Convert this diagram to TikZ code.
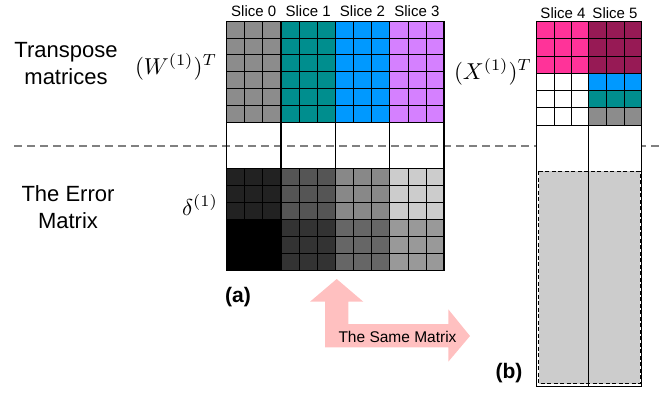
\documentclass[tikz,border=0pt]{standalone}
\usepackage{graphicx}
\usepackage{fontspec}
\setmainfont{Liberation Sans}
\definecolor{cGray}{HTML}{8C8C8C}
\definecolor{cTeal}{HTML}{008E8E}
\definecolor{cBlue}{HTML}{0099FF}
\definecolor{cViolet}{HTML}{D580FF}
\definecolor{cPink}{HTML}{FF3399}
\definecolor{cMaroon}{HTML}{971A55}
\definecolor{cArrow}{HTML}{FFC0C0}
\definecolor{dA}{HTML}{222222}
\definecolor{dB}{HTML}{000000}
\definecolor{dC}{HTML}{555555}
\definecolor{dD}{HTML}{333333}
\definecolor{dE}{HTML}{888888}
\definecolor{dF}{HTML}{666666}
\definecolor{dG}{HTML}{CCCCCC}
\definecolor{dH}{HTML}{999999}
\begin{document}
\begin{tikzpicture}[x=1pt,y=-1pt,
  cell/.style={draw=black,line width=0.55pt},
  slicebar/.style={draw=black,line width=1.3pt},
  slicelabel/.style={font=\fontsize{15}{17}\selectfont,inner sep=0pt},
  sidelabel/.style={font=\fontsize{22}{27}\selectfont,align=center,inner sep=0pt},
  mathlabel/.style={inner sep=0pt},
  partlabel/.style={font=\fontsize{21}{24}\selectfont\bfseries,inner sep=0pt},
  divider/.style={draw=black!50,line width=1.4pt,dash pattern=on 8pt off 5pt}]
\useasboundingbox (0,0) rectangle (664,392);

% divider
\coordinate (dl) at (14,146);
\coordinate (dr) at (662,146);
\draw[divider] (dl) -- (dr);

% left matrix: top (transpose) block
\foreach \s/\col in {0/cGray,1/cTeal,2/cBlue,3/cViolet}{
  \foreach \i in {0,1,2}{
    \foreach \j in {0,...,5}{
      \filldraw[cell,fill=\col] ({226.5+(3*\s+\i)*18.133},{21+\j*16.833}) rectangle ++(18.133,16.833);
    }
  }
}
% left matrix: error block
\foreach \s/\ca/\cb in {0/dA/dB,1/dC/dD,2/dE/dF,3/dG/dH}{
  \foreach \i in {0,1,2}{
    \foreach \j in {0,1,2}{
      \filldraw[cell,fill=\ca] ({226.5+(3*\s+\i)*18.133},{168.3+\j*16.95}) rectangle ++(18.133,16.95);
    }
    \foreach \j in {3,4,5}{
      \filldraw[cell,fill=\cb] ({226.5+(3*\s+\i)*18.133},{168.3+\j*16.95}) rectangle ++(18.133,16.95);
    }
  }
}
\foreach \s in {0,...,4}{
  \draw[slicebar] ({226.5+\s*54.4},21) -- ({226.5+\s*54.4},270.5);
}
\draw[line width=1pt] (226.5,270) -- (444.1,270);

% right matrix
\fill[white] (536.7,21.5) rectangle (641.7,386.5);
\foreach \i in {0,1,2}{
  \foreach \j in {0,1,2}{
    \filldraw[cell,fill=cPink] ({536.7+\i*17.2},{21.5+\j*17.25}) rectangle ++(17.2,17.25);
    \filldraw[cell,fill=cMaroon] ({588.3+\i*17.8},{21.5+\j*17.25}) rectangle ++(17.8,17.25);
  }
  \foreach \j in {3,4,5}{
    \draw[cell] ({536.7+\i*17.2},{21.5+\j*17.25}) rectangle ++(17.2,17.25);
  }
  \filldraw[cell,fill=cBlue] ({588.3+\i*17.8},{21.5+3*17.25}) rectangle ++(17.8,17.25);
  \filldraw[cell,fill=cTeal] ({588.3+\i*17.8},{21.5+4*17.25}) rectangle ++(17.8,17.25);
  \filldraw[cell,fill=cGray] ({588.3+\i*17.8},{21.5+5*17.25}) rectangle ++(17.8,17.25);
}
\filldraw[fill=black!20,draw=black,line width=0.8pt,dash pattern=on 4pt off 2.5pt] (538.8,171) rectangle (640,383.8);
\draw[line width=0.9pt] (536.7,21.5) rectangle (641.7,386.5);
\draw[slicebar] (588.3,21.5) -- (588.3,386.5);

% slice labels
\node[slicelabel] (s0) at (253.7,11.5) {Slice 0};
\node[slicelabel] (s1) at (308.1,11.5) {Slice 1};
\node[slicelabel] (s2) at (362.5,11.5) {Slice 2};
\node[slicelabel] (s3) at (416.9,11.5) {Slice 3};
\node[slicelabel] (s4) at (563,13) {Slice 4};
\node[slicelabel] (s5) at (615,13) {Slice 5};

% side labels
\node[sidelabel] (tm) at (66,64) {Transpose\\matrices};
\node[sidelabel] (em) at (68,207) {The Error\\Matrix};

% math labels
\node[mathlabel] (wt) at (176,67) {\scalebox{2.3}{$(W^{(1)})^{T}$}};
\node[mathlabel] (dl1) at (200,205) {\scalebox{2.3}{$\delta^{(1)}$}};
\node[mathlabel] (xt) at (493,72) {\scalebox{2.3}{$(X^{(1)})^{T}$}};

% part labels
\node[partlabel] (pa) at (238,297) {(a)};
\node[partlabel] (pb) at (509,373) {(b)};

% pink arrow
\fill[cArrow] (336.7,279) -- (363.3,301.7) -- (348.3,301.7) -- (348.3,324)
  -- (448.3,324) -- (448.3,309.3) -- (470,336) -- (448.3,361.7) -- (448.3,347.3)
  -- (325,347.3) -- (325,301.7) -- (310,301.7) -- cycle;
\node[font=\fontsize{15.5}{18}\selectfont,inner sep=0pt] (same) at (397.5,337) {The Same Matrix};
\end{tikzpicture}
\end{document}
